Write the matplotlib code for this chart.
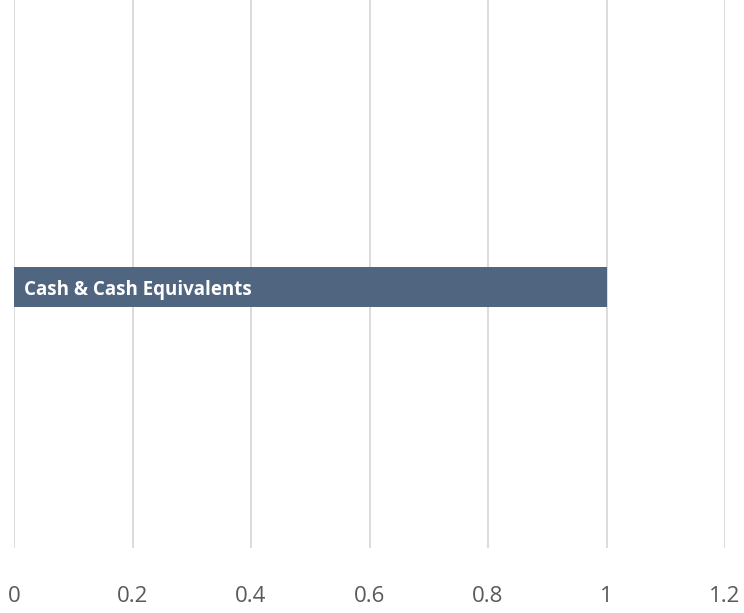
import matplotlib.pyplot as plt

# five rows, only the middle one carries a visible bar
categories = ["", "", "Cash & Cash Equivalents", "", ""]
values = [0, 0, 1, 0, 0]
x_ticks = [0, 0.2, 0.4, 0.6, 0.8, 1, 1.2]
x_tick_labels = ["0", "0.2", "0.4", "0.6", "0.8", "1", "1.2"]

plt.rcParams["font.family"] = ["Open Sans", "DejaVu Sans"]

fig = plt.figure(figsize=(7.44, 6.13), dpi=100)
ax = fig.add_axes([14 / 744, 65 / 613, 711 / 744, 548 / 613])

positions = list(range(len(categories)))
ax.barh(positions, values, height=0.356, color="#506580", zorder=3)

for pos, val, name in zip(positions, values, categories):
    if name:
        ax.text(0.017, pos, name, color="white", fontsize=13.5, fontweight="bold",
                va="center_baseline", ha="left", zorder=4)

ax.set_xlim(0, 1.2)
ax.set_ylim((548 - 62) / 112.5, -62 / 112.5)
ax.set_xticks(x_ticks)
ax.set_xticklabels(x_tick_labels, fontsize=16, color="#595959")
ax.tick_params(axis="x", length=0, pad=27)
ax.set_yticks([])
ax.grid(axis="x", color="#d9d9d9", linewidth=1.3, zorder=0)
for s in ax.spines.values():
    s.set_visible(False)

fig.savefig("out.png", dpi=100)
